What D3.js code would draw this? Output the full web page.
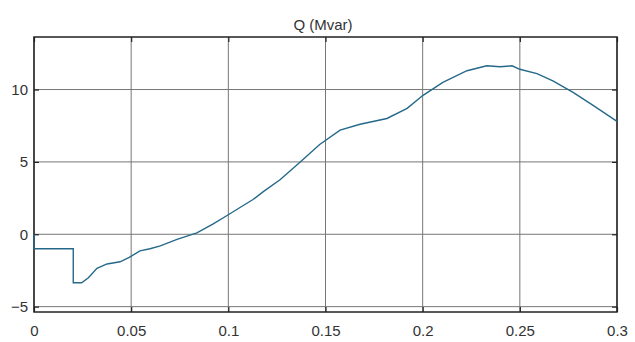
<!DOCTYPE html>
<html>
<head>
<meta charset="utf-8">
<script src="https://cdn.jsdelivr.net/npm/d3@7"></script>
<style>
  html, body { margin: 0; padding: 0; background: #fff; overflow: hidden; }
  svg { display: block; }
  text { font-family: "Liberation Sans", Arial, sans-serif; fill: #333; }
</style>
</head>
<body>
<div id="chart"></div>
<script>
// Reactive power trace
const times = [0, 0, 0.0202, 0.0202, 0.0245, 0.028, 0.0324, 0.0376, 0.0443, 0.049, 0.0545,
  0.0597, 0.065, 0.0736, 0.0838, 0.092, 0.1, 0.106, 0.1127, 0.118, 0.1266, 0.137, 0.147,
  0.1575, 0.1678, 0.1816, 0.192, 0.2002, 0.2104, 0.2228, 0.233, 0.2398, 0.246, 0.25,
  0.2588, 0.267, 0.2774, 0.2877, 0.3];
const qValues = [0, -1, -1, -3.35, -3.35, -3.0, -2.35, -2.05, -1.9, -1.6, -1.15,
  -1.0, -0.8, -0.35, 0.1, 0.7, 1.35, 1.85, 2.4, 2.95, 3.77, 5.0, 6.2,
  7.2, 7.6, 8.0, 8.7, 9.6, 10.5, 11.3, 11.64, 11.57, 11.64, 11.4,
  11.1, 10.6, 9.8, 8.9, 7.8];
const xTicks = [0, 0.05, 0.1, 0.15, 0.2, 0.25, 0.3];
const yTicks = [-5, 0, 5, 10];
const title = 'Q (Mvar)';

const width = 635, height = 342;
const margin = { top: 37, right: 18, bottom: 30, left: 34 };
const innerWidth = width - margin.left - margin.right;
const innerHeight = height - margin.top - margin.bottom;

const svg = d3.select('#chart').append('svg')
    .attr('width', width)
    .attr('height', height);

svg.append('text')
    .attr('x', 323)
    .attr('y', 30)
    .attr('text-anchor', 'middle')
    .style('font-size', '15px')
    .text(title);

const g = svg.append('g')
    .attr('transform', `translate(${margin.left},${margin.top})`);

const xScale = d3.scaleLinear().domain([0, 0.3]).range([0, innerWidth]);
const yScale = d3.scaleLinear().domain([-5.37, 13.63]).range([innerHeight, 0]);

// Grid
g.selectAll('.vgrid').data(xTicks).enter().append('line')
    .attr('x1', d => xScale(d)).attr('x2', d => xScale(d))
    .attr('y1', 0).attr('y2', innerHeight)
    .style('stroke', '#777').style('stroke-width', 1);

g.selectAll('.hgrid').data(yTicks).enter().append('line')
    .attr('x1', 0).attr('x2', innerWidth)
    .attr('y1', d => yScale(d)).attr('y2', d => yScale(d))
    .style('stroke', '#777').style('stroke-width', 1);

// Axes with inward ticks (MATLAB style box)
const xAxis = d3.axisBottom(xScale).tickValues(xTicks).tickSize(-5).tickPadding(13).tickFormat(d3.format('~g'));
const yAxis = d3.axisLeft(yScale).tickValues(yTicks).tickSize(-5).tickPadding(6).tickFormat(d3.format('d'));

g.append('g').attr('transform', `translate(0,${innerHeight})`).call(xAxis)
    .call(a => a.select('.domain').remove());
g.append('g').call(yAxis)
    .call(a => a.select('.domain').remove());
g.append('g').call(d3.axisTop(xScale).tickValues(xTicks).tickSize(-5))
    .call(a => a.select('.domain').remove())
    .call(a => a.selectAll('text').remove());
g.append('g').attr('transform', `translate(${innerWidth},0)`)
    .call(d3.axisRight(yScale).tickValues(yTicks).tickSize(-5))
    .call(a => a.select('.domain').remove())
    .call(a => a.selectAll('text').remove());

g.selectAll('.tick line').style('stroke', '#222').style('stroke-width', 1.2);
g.selectAll('.tick text').style('font-size', '15px').style('fill', '#333');

// Box
g.append('rect')
    .attr('width', innerWidth).attr('height', innerHeight)
    .style('fill', 'none').style('stroke', '#222').style('stroke-width', 1.5);

// Curve
const line = d3.line()
    .x((d, i) => xScale(times[i]))
    .y(d => yScale(d));

g.append('path')
    .datum(qValues)
    .attr('d', line)
    .style('fill', 'none')
    .style('stroke', '#25698a')
    .style('stroke-width', 1.4);
</script>
</body>
</html>
